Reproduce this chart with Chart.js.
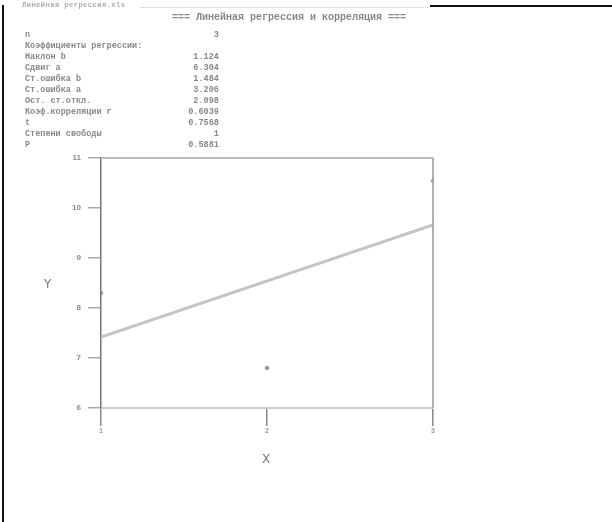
<!DOCTYPE html>
<html>
<head>
<meta charset="utf-8">
<script src="https://cdn.jsdelivr.net/npm/chart.js@4/dist/chart.umd.min.js"></script>
<style>
    body { margin: 0; background: #fff; width: 612px; height: 522px; overflow: hidden; position: relative; font-family: "Liberation Mono", "DejaVu Sans Mono", monospace; }
    canvas { position: absolute; left: 0; top: 0; }
    .edge { position: absolute; background: #111; }
    #header { position: absolute; left: 22px; top: 1px; font-size: 7px; font-weight: bold; color: #aaa; letter-spacing: 0.5px; }
    #headerLine { position: absolute; left: 140px; top: 7px; width: 290px; border-top: 1px dotted #ccc; }
    #title { position: absolute; left: 172px; top: 12px; font-size: 10px; line-height: 12px; font-weight: bold; color: #888; white-space: pre; }
    #stats { position: absolute; left: 25px; top: 30px; margin: 0; font-size: 8.5px; line-height: 11px; font-weight: bold; color: #888; font-family: "Liberation Mono", monospace; }
    .axisTitle { position: absolute; font-family: "DejaVu Sans", sans-serif; font-size: 12px; color: #777; }
</style>
</head>
<body>
<canvas id="regChart" width="612" height="522"></canvas>
<div class="edge" style="left:2px; top:5px; width:2px; height:517px;"></div>
<div class="edge" style="left:430px; top:5px; width:182px; height:2px;"></div>
<div id="header">Линейная регрессия.xls</div>
<div id="headerLine"></div>
<div id="title">=== Линейная регрессия и корреляция ===</div>
<pre id="stats"></pre>
<div class="axisTitle" style="left:44px; top:277px;">Y</div>
<div class="axisTitle" style="left:262px; top:452px;">X</div>
<script>
// data
const xValues = [1, 2, 3];
const yValues = [8.3, 6.8, 10.54];
const fitX = [1, 3];
const fitY = [7.42, 9.66];
const yTicks = [6, 7, 8, 9, 10, 11];

const statLabels = ['n', 'Коэффициенты регрессии:', 'Наклон b', 'Сдвиг a', 'Ст.ошибка b', 'Ст.ошибка a',
    'Ост. ст.откл.', 'Коэф.корреляции r', 't', 'Степени свободы', 'P'];
const statValues = ['3', '', '1.124', '6.304', '1.484', '3.206', '2.098', '0.6039', '0.7568', '1', '0.5881'];

// monospace report, values right-aligned to column 38
document.getElementById('stats').textContent = statLabels.map(function (label, i) {
    const value = statValues[i];
    if (!value) return label;
    return label + value.padStart(38 - label.length, ' ');
}).join('\n');

// top and right sides of the plot box
const boxLines = {
    id: 'boxLines',
    afterDatasetsDraw(chart) {
        const { ctx, chartArea } = chart;
        ctx.save();
        ctx.strokeStyle = '#bbb';
        ctx.lineWidth = 2;
        ctx.beginPath();
        ctx.moveTo(chartArea.left, chartArea.top);
        ctx.lineTo(chartArea.right, chartArea.top);
        ctx.stroke();
        ctx.strokeStyle = '#999';
        ctx.lineWidth = 1.5;
        ctx.beginPath();
        ctx.moveTo(chartArea.right, chartArea.top);
        ctx.lineTo(chartArea.right, chartArea.bottom);
        ctx.stroke();
        ctx.restore();
    }
};

const chartCanvas = document.getElementById('regChart');
new Chart(chartCanvas, {
    type: 'scatter',
    data: {
        datasets: [{
            data: xValues.map((x, i) => ({ x: x, y: yValues[i] })),
            pointRadius: 1.8,
            backgroundColor: '#999',
            borderColor: '#999'
        }, {
            type: 'line',
            data: fitX.map((x, i) => ({ x: x, y: fitY[i] })),
            borderColor: '#c4c4c4',
            borderWidth: 3,
            pointRadius: 0,
            fill: false
        }]
    },
    options: {
        responsive: false,
        animation: false,
        layout: { padding: { left: 0, top: 158, right: 179, bottom: 84 } },
        plugins: { legend: { display: false }, tooltip: { enabled: false } },
        scales: {
            x: {
                type: 'linear',
                min: 1,
                max: 3,
                afterFit: (scale) => { scale.height = 30; },
                afterBuildTicks: (scale) => { scale.ticks = xValues.map(v => ({ value: v })); },
                grid: { drawOnChartArea: false, tickLength: 18, color: '#888', lineWidth: 1.5 },
                border: { color: '#ccc', width: 2 },
                ticks: { font: { size: 7, weight: 'bold' }, color: '#999', padding: 1 }
            },
            y: {
                min: 6,
                max: 11,
                afterFit: (scale) => { scale.width = 101; },
                afterBuildTicks: (scale) => { scale.ticks = yTicks.map(v => ({ value: v })); },
                grid: { drawOnChartArea: false, tickLength: 13, color: '#aaa', lineWidth: 1.5 },
                border: { color: '#777', width: 1.5 },
                ticks: { font: { size: 8, weight: 'bold' }, color: '#888', padding: 7 }
            }
        }
    },
    plugins: [boxLines]
});
</script>
</body>
</html>
